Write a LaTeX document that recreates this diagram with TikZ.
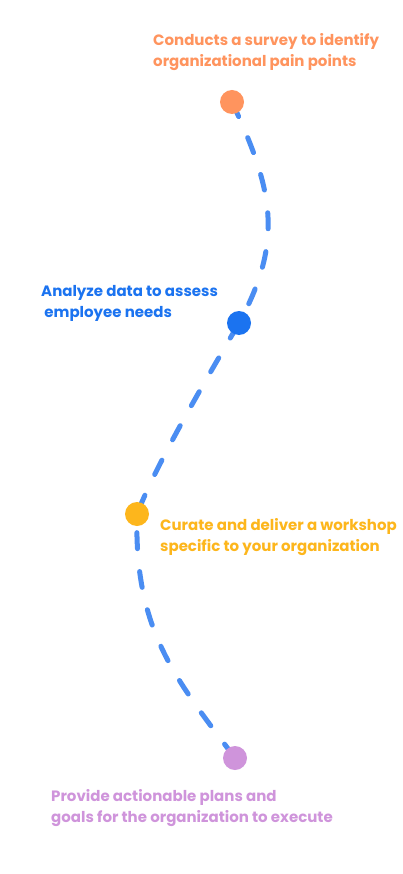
\documentclass[tikz,border=0pt]{standalone}
\usepackage{fontspec}
\setmainfont{Poppins}
\definecolor{pathblue}{HTML}{4A8DF2}
\definecolor{stepone}{HTML}{FF945E}
\definecolor{steptwo}{HTML}{1B73F0}
\definecolor{stepthree}{HTML}{FDB61C}
\definecolor{stepfour}{HTML}{CF94DB}
\begin{document}
\begin{tikzpicture}[x=1pt,y=-1pt,
  dot/.style={circle,fill=#1,minimum size=24pt,inner sep=0pt},
  label/.style={text=#1,font=\fontsize{15}{21.5}\selectfont\bfseries,align=left,anchor=north west,inner sep=0pt},
  route/.style={draw=pathblue,line width=5pt,line cap=round,dash pattern=on 16pt off 23pt}]
\useasboundingbox[fill=white] (0,0) rectangle (402,874);

% milestones
\coordinate (o) at (232,102);
\coordinate (b) at (239,323);
\coordinate (y) at (137,514);
\coordinate (p) at (235,758);

% dashed route through the milestones
\draw[route] (o) .. controls (272,188) and (285,239) .. (b)
                 .. controls (209,375) and (159,458) .. (y)
                 .. controls (134,630) and (175,678) .. (p);

\node[dot=stepone]   (n1) at (o) {};
\node[dot=steptwo]   (n2) at (b) {};
\node[dot=stepthree] (n3) at (y) {};
\node[dot=stepfour]  (n4) at (p) {};

% step descriptions
\node[label=stepone]   (t1) at (153,33)  {Conducts a survey to identify\\organizational pain points};
\node[label=steptwo]   (t2) at (41,285)  {Analyze data to assess\\ \ employee needs};
\node[label=stepthree] (t3) at (160,518) {Curate and deliver a workshop\\specific to your organization};
\node[label=stepfour]  (t4) at (51,789)  {Provide actionable plans and\\goals for the organization to execute};
\end{tikzpicture}
\end{document}
